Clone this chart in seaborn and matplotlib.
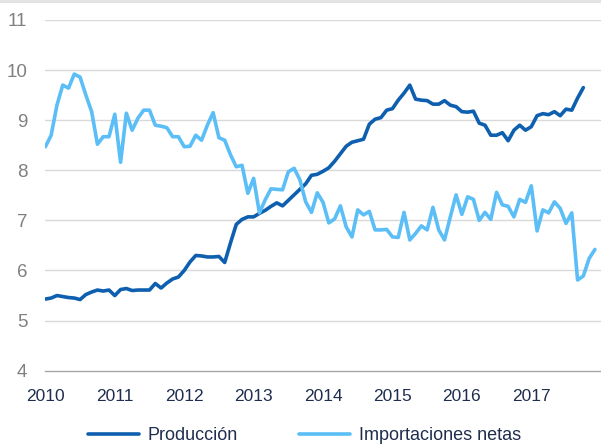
import numpy as np
import pandas as pd
import seaborn as sns
import matplotlib.pyplot as plt

# monthly series, Jan 2010 onwards
produccion = [
    5.43, 5.45, 5.50, 5.48, 5.46, 5.45, 5.42, 5.52, 5.57, 5.61, 5.59, 5.61,
    5.50, 5.62, 5.64, 5.60, 5.61, 5.61, 5.61, 5.74, 5.65, 5.75, 5.83, 5.87,
    6.00, 6.17, 6.30, 6.29, 6.27, 6.27, 6.28, 6.16, 6.55, 6.92, 7.02, 7.07,
    7.07, 7.14, 7.20, 7.28, 7.35, 7.29, 7.40, 7.51, 7.62, 7.73, 7.90, 7.92,
    7.98, 8.05, 8.18, 8.33, 8.48, 8.56, 8.59, 8.62, 8.92, 9.02, 9.05, 9.20,
    9.23, 9.40, 9.54, 9.70, 9.42, 9.40, 9.39, 9.32, 9.32, 9.39, 9.30, 9.27,
    9.17, 9.16, 9.18, 8.94, 8.90, 8.70, 8.70, 8.75, 8.59, 8.80, 8.90, 8.80,
    8.87, 9.09, 9.13, 9.11, 9.17, 9.09, 9.22, 9.20, 9.44, 9.65,
]
importaciones = [
    8.47, 8.70, 9.30, 9.70, 9.64, 9.92, 9.86, 9.50, 9.17, 8.52, 8.67, 8.67,
    9.12, 8.16, 9.14, 8.80, 9.04, 9.20, 9.20, 8.90, 8.88, 8.85, 8.67, 8.67,
    8.47, 8.48, 8.70, 8.60, 8.90, 9.15, 8.65, 8.60, 8.31, 8.07, 8.10, 7.54,
    7.84, 7.15, 7.41, 7.63, 7.62, 7.61, 7.97, 8.04, 7.81, 7.37, 7.16, 7.55,
    7.36, 6.95, 7.03, 7.29, 6.87, 6.67, 7.21, 7.11, 7.18, 6.81, 6.81, 6.82,
    6.67, 6.66, 7.16, 6.61, 6.74, 6.89, 6.81, 7.26, 6.81, 6.61, 7.07, 7.51,
    7.12, 7.47, 7.42, 7.00, 7.16, 7.02, 7.56, 7.31, 7.28, 7.07, 7.42, 7.36,
    7.69, 6.79, 7.21, 7.15, 7.37, 7.24, 6.94, 7.15, 5.81, 5.89, 6.24, 6.42,
]
years = list(range(2010, 2018))

df_prod = pd.DataFrame({'t': 2010 + np.arange(len(produccion)) / 12, 'v': produccion})
df_imp = pd.DataFrame({'t': 2010 + np.arange(len(importaciones)) / 12, 'v': importaciones})

sns.set_style('white')
plt.rcParams['font.family'] = ['Liberation Sans', 'DejaVu Sans']

fig = plt.figure(figsize=(6.01, 4.47), dpi=100)
ax = fig.add_axes([0.0755, 0.1707, 0.924, 0.7846])

sns.lineplot(data=df_prod, x='t', y='v', ax=ax, color='#0E5FAF', lw=2.6, label='Producción')
sns.lineplot(data=df_imp, x='t', y='v', ax=ax, color='#5BBEF7', lw=2.6, label='Importaciones netas')

ax.set_xlim(2010, 2018)
ax.set_ylim(4, 11)
ax.set_yticks(range(4, 12))
ax.set_xticks(years + [2018])
ax.set_xticklabels([str(y) for y in years] + [''])
ax.set_xlabel('')
ax.set_ylabel('')

# gridlines
for y in range(5, 12):
    ax.axhline(y, color='#d9d9d9', lw=1.0, zorder=0)

for s in ['top', 'right', 'left']:
    ax.spines[s].set_visible(False)
ax.spines['bottom'].set_color('#a6a6a6')
ax.spines['bottom'].set_linewidth(1.0)

ax.tick_params(axis='x', length=5, width=1, color='#a6a6a6', labelcolor='#1F2D4E',
               labelsize=12.5, pad=8)
ax.tick_params(axis='y', length=0, labelcolor='#808080', labelsize=13.5, pad=13)

ax.get_legend().remove()
handles, labels = ax.get_legend_handles_labels()
leg = fig.legend(handles, labels, loc='center', bbox_to_anchor=(0.507, 0.026),
                 ncol=2, frameon=False, fontsize=13, handlelength=2.8,
                 columnspacing=3.4, handletextpad=0.5)
for t in leg.get_texts():
    t.set_color('#1F2D4E')

fig.add_artist(plt.Line2D([0, 1], [0.998, 0.998], transform=fig.transFigure,
                          color='#e3e3e3', lw=3))

fig.savefig('out.png', dpi=100)
